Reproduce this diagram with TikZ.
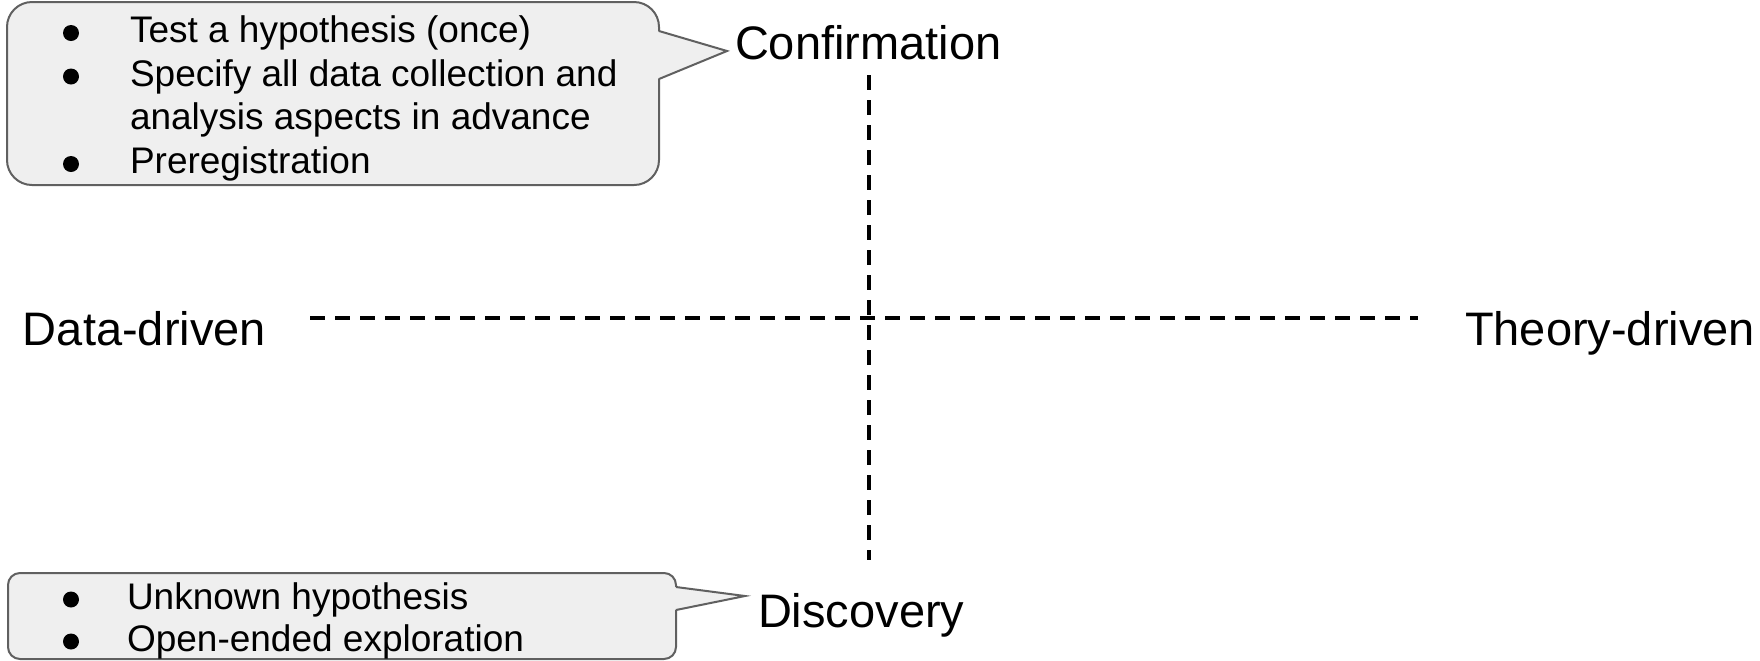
\documentclass[tikz,border=0pt]{standalone}
\usepackage{fontspec}
\setmainfont{Liberation Sans}
\definecolor{calloutfill}{RGB}{239,239,239}
\definecolor{calloutdraw}{RGB}{96,96,96}
\tikzset{
  axisline/.style={line width=1.75pt, dash pattern=on 7.5pt off 5pt},
  callout/.style={fill=calloutfill, draw=calloutdraw, line width=1pt},
  bullettext/.style={anchor=base west, inner sep=0pt, outer sep=0pt,
    font=\fontsize{18.5pt}{22pt}\selectfont},
  axislabel/.style={anchor=base west, inner sep=0pt, outer sep=0pt,
    font=\fontsize{23.5pt}{28pt}\selectfont},
  dot/.style={fill=black, draw=none}
}
\begin{document}
\begin{tikzpicture}[x=0.5pt,y=-0.5pt]
  \useasboundingbox (0,0) rectangle (1760,660);
  \fill[white] (0,0) rectangle (1760,660);

  % axes
  \coordinate (hl) at (310,318);
  \coordinate (hr) at (1418,318);
  \coordinate (vt) at (869,75);
  \coordinate (vb) at (869,560);
  \draw[axisline] (hl) -- (hr);
  \draw[axisline] (vt) -- (vb);

  % axis labels
  \node[axislabel] (conf) at (735,59) {Confirmation};
  \node[axislabel] (disc) at (758,627) {Discovery};
  \node[axislabel] (data) at (23,345) {Data-driven};
  \node[axislabel] (theory) at (1465,345) {Theory-driven};

  % upper callout: rounded box plus pointer
  \draw[callout, rounded corners=12.5pt] (7,2) rectangle (659,185);
  \fill[calloutfill] (657,31) -- (727,51) -- (657,79) -- cycle;
  \draw[calloutdraw, line width=1pt, line join=miter] (659,31) -- (727,51) -- (659,79);
  \fill[dot] (71,33) circle (8);
  \fill[dot] (71,76.5) circle (8);
  \fill[dot] (71,164) circle (8);
  \node[bullettext] (c1) at (130,42.5) {Test a hypothesis (once)};
  \node[bullettext] (c2) at (130,86.2) {Specify all data collection and};
  \node[bullettext] (c3) at (130,129.9) {analysis aspects in advance};
  \node[bullettext] (c4) at (130,173.6) {Preregistration};

  % lower callout: rounded box plus pointer
  \draw[callout, rounded corners=6pt] (8,573) rectangle (676,659);
  \fill[calloutfill] (674,587) -- (745,596) -- (674,610) -- cycle;
  \draw[calloutdraw, line width=1pt, line join=miter] (676,587) -- (745,596) -- (676,610);
  \fill[dot] (71,599.5) circle (8);
  \fill[dot] (71,641.5) circle (8);
  \node[bullettext] (d1) at (127,609.5) {Unknown hypothesis};
  \node[bullettext] (d2) at (127,651.5) {Open-ended exploration};
\end{tikzpicture}
\end{document}
